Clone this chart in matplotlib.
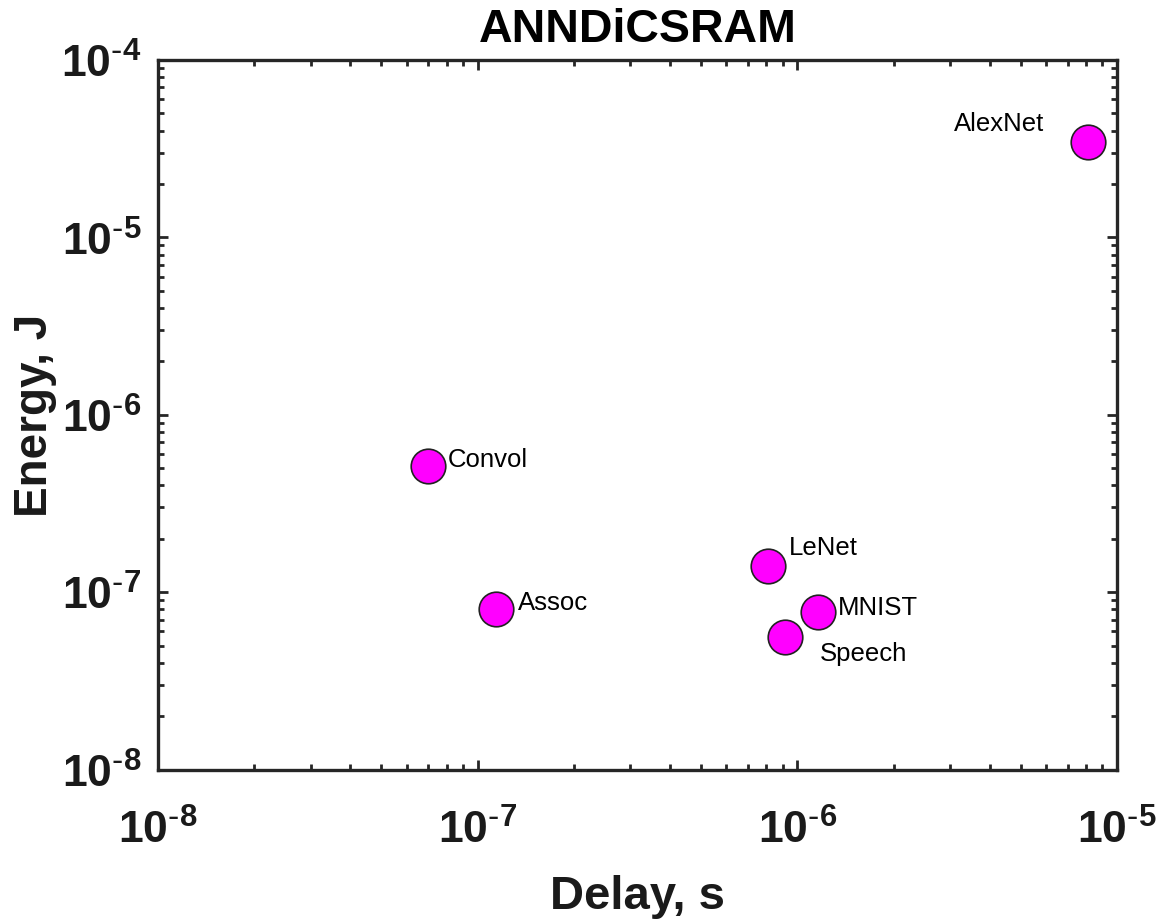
import numpy as np
import matplotlib
matplotlib.use('Agg')
import matplotlib.pyplot as plt
from matplotlib.ticker import LogLocator

plt.rcParams['font.family'] = ['Liberation Sans', 'DejaVu Sans']
plt.rcParams['mathtext.default'] = 'regular'

names = ['AlexNet', 'Convol', 'Assoc', 'LeNet', 'MNIST', 'Speech']
delay = [8.1e-6, 7.0e-8, 1.14e-7, 8.1e-7, 1.16e-6, 9.15e-7]
energy = [3.44e-5, 5.14e-7, 8.0e-8, 1.40e-7, 7.7e-8, 5.6e-8]
xticks = [1e-8, 1e-7, 1e-6, 1e-5]
yticks = [1e-8, 1e-7, 1e-6, 1e-5, 1e-4]

# label offsets (points), left edge / vertical centre of the text
offsets = [(-96, 14), (14, 5), (16, 5), (15, 14), (14, 4), (25, -12)]


def pow_label(v):
    e = int(round(np.log10(v)))
    return r'$10^{\text{-}%d}$' % abs(e)


fig = plt.figure(figsize=(11.62, 9.2), dpi=100)
ax = fig.add_axes([0.136, 0.1625, 0.8253, 0.7712])

ax.scatter(delay, energy, s=620, c='#ff00ff', edgecolors='#222222', linewidths=1.2, zorder=3)
for n, x, y, off in zip(names, delay, energy, offsets):
    ax.annotate(n, (x, y), xytext=off, textcoords='offset points',
                ha='left', va='center', fontsize=18.5, color='black')

ax.set_xscale('log')
ax.set_yscale('log')
ax.set_xlim(1e-8, 1e-5)
ax.set_ylim(1e-8, 1e-4)
ax.set_xticks(xticks)
ax.set_xticklabels([pow_label(v) for v in xticks])
ax.set_yticks(yticks)
ax.set_yticklabels([pow_label(v) for v in yticks])
ax.xaxis.set_minor_locator(LogLocator(base=10, subs=np.arange(2, 10), numticks=20))
ax.yaxis.set_minor_locator(LogLocator(base=10, subs=np.arange(2, 10), numticks=20))

dark = '#262626'
for sp in ax.spines.values():
    sp.set_linewidth(2.4)
    sp.set_color(dark)
ax.tick_params(which='both', direction='in', top=True, right=True, color=dark, width=2)
ax.tick_params(which='major', length=7)
ax.tick_params(which='minor', length=4)
ax.tick_params(axis='x', which='major', pad=28)
ax.tick_params(axis='y', which='major', pad=12)
for lab in ax.get_xticklabels() + ax.get_yticklabels():
    lab.set_fontsize(32)
    lab.set_fontweight('bold')
    lab.set_color('#1a1a1a')

ax.set_xlabel('Delay, s', fontsize=34, fontweight='bold', labelpad=16, color='#1a1a1a')
ax.set_ylabel('Energy, J', fontsize=33, fontweight='bold', labelpad=3, color='#1a1a1a')
ax.set_title('ANNDiCSRAM', fontsize=33.5, fontweight='bold', pad=14, color='black')

fig.savefig('out.png', dpi=100)
